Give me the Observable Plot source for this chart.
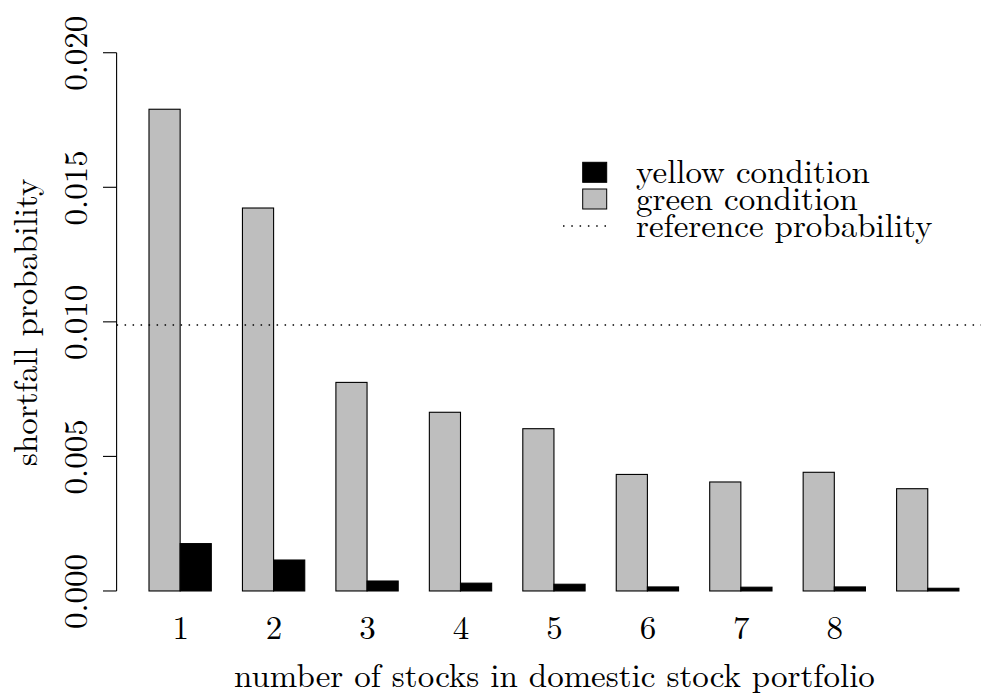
<!DOCTYPE html>
<html>
<head>
<meta charset="utf-8">
<script src="https://cdn.jsdelivr.net/npm/d3@7"></script>
<script src="https://cdn.jsdelivr.net/npm/@observablehq/plot@0.6"></script>
<style>
  html, body { margin: 0; padding: 0; background: #fff; }
  #chart svg { display: block; }
</style>
</head>
<body>
<div id="chart"></div>
<script>
// ---- data ----
const groupLabels = ["1", "2", "3", "4", "5", "6", "7", "8", ""];
const greenCondition  = [0.0179, 0.01423, 0.00775, 0.00664, 0.00603, 0.00433, 0.00405, 0.00441, 0.00380];
const yellowCondition = [0.00176, 0.00115, 0.00037, 0.00029, 0.00025, 0.00015, 0.00014, 0.00015, 0.00010];
const referenceProbability = 0.0099;
const yTicks = [0, 0.005, 0.010, 0.015, 0.020];
const legendLabels = ["yellow condition", "green condition", "reference probability"];
const xTitle = "number of stocks in domestic stock portfolio";
const yTitle = "shortfall probability";

// R barplot(beside=TRUE, space=c(0,1)) layout in bar-width units
const bars = [];
groupLabels.forEach((g, i) => {
  bars.push({group: g, series: "green", x1: 3 * i + 1, x2: 3 * i + 2, value: greenCondition[i]});
  bars.push({group: g, series: "yellow", x1: 3 * i + 2, x2: 3 * i + 3, value: yellowCondition[i]});
});
const groupCenters = groupLabels.map((g, i) => ({label: g, x: 3 * i + 2}));

const FONT = "'Latin Modern Roman', 'CMU Serif', 'Liberation Serif', serif";
const FS = 33;
const xMin = -0.04, xMax = 28.04;

const legendMark = (index, scales, values, dims) => {
  const g = d3.create("svg:g")
    .attr("font-family", FONT).attr("font-size", FS).attr("text-anchor", "start");
  const rows = [172.3, 199, 226];
  g.append("rect").attr("x", 582.7).attr("y", 162.3).attr("width", 24).attr("height", 20)
    .attr("fill", "#000").attr("stroke", "#000");
  g.append("rect").attr("x", 582.7).attr("y", 189).attr("width", 24).attr("height", 20)
    .attr("fill", "#BEBEBE").attr("stroke", "#000");
  g.append("line").attr("x1", 563).attr("x2", 607).attr("y1", rows[2]).attr("y2", rows[2])
    .attr("stroke", "#000").attr("stroke-width", 1.5).attr("stroke-dasharray", "1.5 6.8");
  legendLabels.forEach((t, i) => {
    g.append("text").attr("x", 636).attr("y", rows[i]).attr("dy", "0.32em")
      .attr("text-anchor", "start").attr("fill", "#000").text(t);
  });
  return g.node();
};

const yAxisMark = (index, scales) => {
  const g = d3.create("svg:g").attr("stroke", "#000").attr("stroke-width", 1.1);
  const x0 = scales.x(xMin);
  g.append("line").attr("x1", x0).attr("x2", x0)
    .attr("y1", scales.y(yTicks[0])).attr("y2", scales.y(yTicks[yTicks.length - 1]));
  for (const t of yTicks) {
    const y = scales.y(t);
    g.append("line").attr("x1", x0 - 13.6).attr("x2", x0).attr("y1", y).attr("y2", y);
  }
  return g.node();
};

const chart = Plot.plot({
  width: 981,
  height: 695,
  marginLeft: 116.6,
  marginRight: 0,
  marginTop: 31.2,
  marginBottom: 82.5,
  style: {fontFamily: FONT, fontSize: FS + "px", background: "#fff", color: "#000", overflow: "visible"},
  x: {type: "linear", domain: [xMin, xMax], range: [116.6, 991.3], axis: null},
  y: {domain: [-0.0008, 0.0208], axis: null},
  marks: [
    // bars
    Plot.rect(bars, {
      x1: "x1", x2: "x2", y1: () => 0, y2: "value",
      fill: d => d.series === "green" ? "#BEBEBE" : "#000",
      stroke: "#000", strokeWidth: 1.1
    }),
    // reference probability line
    Plot.ruleY([referenceProbability], {stroke: "#000", strokeWidth: 1.5, strokeDasharray: "1.5 6.5"}),
    // y axis line and ticks
    yAxisMark,
    // y tick labels (rotated, parallel to axis)
    Plot.text(yTicks, {x: () => xMin, y: d => d, text: d => d3.format(".3f")(d), rotate: -90,
      dx: -41.1, lineAnchor: "middle", textAnchor: "middle", fill: "#000", fontSize: FS}),
    // x group labels
    Plot.text(groupCenters, {x: "x", y: () => 0, text: "label", dy: 37, lineAnchor: "middle",
      fill: "#000", fontSize: FS}),
    // axis titles
    Plot.text([xTitle], {x: () => (xMin + xMax) / 2, y: () => 0, text: d => d, dy: 84.5, lineAnchor: "middle",
      fill: "#000", fontSize: FS}),
    Plot.text([yTitle], {x: () => xMin, y: () => 0.01, text: d => d, rotate: -90, dx: -90.6,
      lineAnchor: "middle", fill: "#000", fontSize: FS}),
    legendMark
  ]
});
document.getElementById("chart").appendChild(chart);
</script>
</body>
</html>
